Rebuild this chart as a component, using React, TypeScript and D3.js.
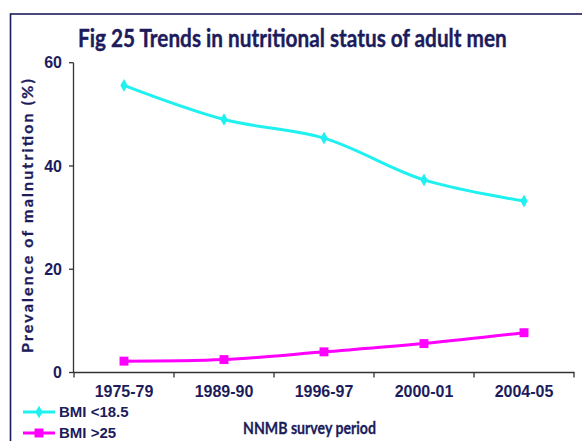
import React, { useLayoutEffect, useRef, useState } from "react";
import * as d3 from "d3";

// Survey periods and prevalence (%) for adult men
const periods = ["1975-79", "1989-90", "1996-97", "2000-01", "2004-05"];
const underweight = [55.6, 49.0, 45.4, 37.3, 33.2]; // BMI <18.5
const overweight = [2.2, 2.5, 4.0, 5.6, 7.7]; // BMI >25
const yTicks = [0, 20, 40, 60];
const seriesNames = ["BMI <18.5", "BMI >25"];

const W = 582;
const H = 441;
const NAVY = "#1c1c5c";
const CYAN = "#1ff0f0";
const MAGENTA = "#ff00ff";
const NARROW = "'Liberation Sans Narrow', 'Arial Narrow', sans-serif";

// Text squeezed horizontally to a given width (Calibri-like proportions)
function FitText(props: {
  x: number;
  y: number;
  width: number;
  fontSize: number;
  anchor?: "start" | "middle";
  stroke?: number;
  children: string;
}) {
  const ref = useRef<SVGTextElement>(null);
  const [sx, setSx] = useState(1);
  useLayoutEffect(() => {
    if (ref.current) {
      const len = ref.current.getComputedTextLength();
      if (len > 0) setSx(props.width / len);
    }
  }, [props.width, props.children]);
  return (
    <text
      ref={ref}
      transform={`translate(${props.x},${props.y}) scale(${sx},1)`}
      textAnchor={props.anchor || "start"}
      fontFamily="Lato, sans-serif"
      fontWeight="bold"
      fontSize={props.fontSize}
      fill={NAVY}
      stroke={NAVY}
      strokeWidth={props.stroke || 0}
    >
      {props.children}
    </text>
  );
}

export default function App() {
  const x = d3.scaleBand<string>().domain(periods).range([74, 574]);
  const y = d3.scaleLinear().domain([0, 60]).range([372.5, 62.7]);
  const cx = (p: string) => (x(p) as number) + x.bandwidth() / 2;

  const line = d3
    .line<number>()
    .x((_, i) => cx(periods[i]))
    .y((v) => y(v))
    .curve(d3.curveCatmullRom.alpha(0.5));

  const diamond = d3.symbol().type(d3.symbolDiamond).size(46)();
  const square = d3.symbol().type(d3.symbolSquare).size(80)();

  const xEdges = [...periods.map((p) => x(p) as number), 574];

  return (
    <svg
      width={W}
      height={H}
      style={{ position: "absolute", left: 0, top: 0, background: "#fff" }}
    >
      {/* frame */}
      <rect x={10.5} y={14} width={620} height={460} fill="none" stroke={NAVY} strokeWidth={1.6} />

      {/* title */}
      <FitText x={78} y={46.5} width={429} fontSize={25} stroke={0.4}>
        Fig 25 Trends in nutritional status of adult men
      </FitText>

      {/* y axis */}
      <line x1={73.5} x2={73.5} y1={y(60)} y2={y(0)} stroke="#333" strokeWidth={1.3} />
      {yTicks.map((t) => (
        <g key={t}>
          <line x1={69} x2={73.5} y1={y(t)} y2={y(t)} stroke="#333" strokeWidth={1.3} />
          <text
            x={62}
            y={y(t)}
            dy="0.36em"
            textAnchor="end"
            fontFamily={NARROW}
            fontWeight="bold"
            fontSize={16}
            fill={NAVY}
          >
            {t}
          </text>
        </g>
      ))}
      <text
        transform={`translate(33, ${(79 + 353) / 2}) rotate(-90)`}
        textAnchor="middle"
        fontFamily="Lato, sans-serif"
        fontWeight="bold"
        fontSize={16}
        fill={NAVY}
        stroke={NAVY}
        strokeWidth={0.3}
        textLength={274}
        lengthAdjust="spacing"
      >
        Prevalence of malnutrition (%)
      </text>

      {/* x axis */}
      <line x1={73.5} x2={574.5} y1={372.5} y2={372.5} stroke="#333" strokeWidth={1.3} />
      {xEdges.map((e, i) => (
        <line key={i} x1={e} x2={e} y1={372.5} y2={377.5} stroke="#333" strokeWidth={1.3} />
      ))}
      {periods.map((p) => (
        <text
          key={p}
          x={cx(p)}
          y={397}
          textAnchor="middle"
          fontFamily={NARROW}
          fontWeight="bold"
          fontSize={16}
          fill={NAVY}
        >
          {p}
        </text>
      ))}
      <FitText x={309.5} y={434} width={133} fontSize={17} anchor="middle" stroke={0.3}>
        NNMB survey period
      </FitText>

      {/* series */}
      <path d={line(underweight) || ""} fill="none" stroke={CYAN} strokeWidth={3} />
      {underweight.map((v, i) => (
        <path key={i} d={diamond || ""} transform={`translate(${cx(periods[i])},${y(v)})`} fill={CYAN} />
      ))}
      <path d={line(overweight) || ""} fill="none" stroke={MAGENTA} strokeWidth={3} />
      {overweight.map((v, i) => (
        <path key={i} d={square || ""} transform={`translate(${cx(periods[i])},${y(v)})`} fill={MAGENTA} />
      ))}

      {/* legend */}
      {[CYAN, MAGENTA].map((c, i) => {
        const ly = 412 + i * 21;
        return (
          <g key={i}>
            <line x1={23} x2={55} y1={ly} y2={ly} stroke={c} strokeWidth={3} />
            <path d={(i === 0 ? diamond : square) || ""} transform={`translate(39,${ly})`} fill={c} />
            <text
              x={59}
              y={ly}
              dy="0.36em"
              fontFamily={NARROW}
              fontWeight="bold"
              fontSize={15}
              fill={NAVY}
            >
              {seriesNames[i]}
            </text>
          </g>
        );
      })}
    </svg>
  );
}
